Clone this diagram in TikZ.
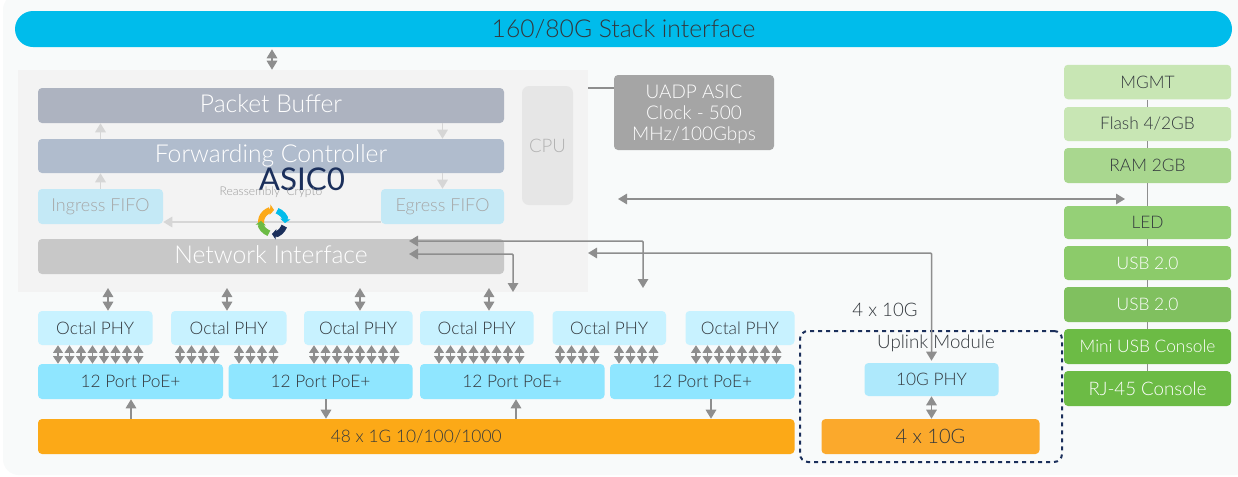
\documentclass[tikz,border=0pt]{standalone}
\usepackage{fontspec}
\setmainfont{Lato}[UprightFont=* Light]
\newfontfamily\asicfont{Lato}
\usetikzlibrary{arrows.meta,calc}
\definecolor{stackblue}{HTML}{00BCEB}
\definecolor{panelbg}{HTML}{F8FAFA}
\definecolor{asicbg}{HTML}{F3F3F3}
\definecolor{bufgrey}{HTML}{ADB3C0}
\definecolor{fwdgrey}{HTML}{B0BCCD}
\definecolor{fifoblue}{HTML}{C4E9F6}
\definecolor{netgrey}{HTML}{C8C8C8}
\definecolor{cpugrey}{HTML}{E6E6E6}
\definecolor{uadpgrey}{HTML}{A5A5A5}
\definecolor{phyblue}{HTML}{C8F2FF}
\definecolor{poeblue}{HTML}{8FE6FF}
\definecolor{tenblue}{HTML}{AEE9FC}
\definecolor{portorange}{HTML}{FCA917}
\definecolor{uporange}{HTML}{FBA92C}
\definecolor{greenA}{HTML}{C8E6B4}
\definecolor{greenB}{HTML}{A9D78F}
\definecolor{greenC}{HTML}{95D077}
\definecolor{greenD}{HTML}{8CCB6A}
\definecolor{greenE}{HTML}{80C05F}
\definecolor{greenF}{HTML}{6CBB45}
\definecolor{txtdark}{HTML}{33383D}
\definecolor{arrowgrey}{HTML}{8E8E8E}
\definecolor{arrowlight}{HTML}{D6D6D6}
\definecolor{navy}{HTML}{1B2F5B}
\def\px{0.75pt}
\tikzset{
    blk/.style={rectangle,rounded corners=4*\px,inner sep=0pt,align=center,text=txtdark},
    wh/.style 2 args={minimum width=#1*\px,minimum height=#2*\px},
    big/.style={blk,text=white,font=\fontsize{18.5}{22}\selectfont,text height=13pt,text depth=3pt},
    mid/.style={blk,font=\fontsize{13}{15}\selectfont},
    phybox/.style={mid,fill=phyblue,wh={#1}{34}},
    poebox/.style={mid,fill=poeblue,wh={#1}{35}},
    grnbox/.style={mid,wh={167}{#1}},
    wire/.style={draw=arrowgrey,line width=1.5*\px},
    dbl/.style={wire,{Triangle[width=10.5*\px,length=9*\px]}-{Triangle[width=10.5*\px,length=9*\px]}},
    dblsmall/.style={wire,{Triangle[width=9.5*\px,length=7.5*\px]}-{Triangle[width=9.5*\px,length=7.5*\px]}},
    one/.style={wire,-{Triangle[width=10.5*\px,length=9*\px]}},
    faint/.style={draw=arrowlight,line width=1.5*\px,-{Triangle[width=10.5*\px,length=9*\px]}}
}
\begin{document}
\begin{tikzpicture}[x=0.75pt,y=-0.75pt]
    \useasboundingbox (0,0) rectangle (1238,476);
    % backdrop
    \fill[white] (0,0) rectangle (1238,476);
    \fill[panelbg,rounded corners=16*\px] (3,-6) rectangle (1250,475);
    \node[blk,fill=stackblue,wh={1217}{36},rounded corners=18*\px,font=\fontsize{18.5}{22}\selectfont] (stack) at (623.5,29) {160/80G Stack interface};
    \node[rectangle,fill=asicbg,inner sep=0pt,wh={570}{222}] (asic) at (303,181) {};
    % inside the ASIC
    \node[big,fill=bufgrey,wh={466}{35}] (buffer) at (271,105.5) {Packet Buffer};
    \node[big,fill=fwdgrey,wh={466}{34}] (forward) at (271,156) {Forwarding Controller};
    \node[mid,text=black!35,fill=fifoblue,wh={125}{35},font=\fontsize{13.5}{16}\selectfont] (ingress) at (100.5,206.5) {Ingress FIFO};
    \node[mid,text=black!35,fill=fifoblue,wh={123}{35},font=\fontsize{13.5}{16}\selectfont] (egress) at (442.5,206.5) {Egress FIFO};
    \node[big,fill=netgrey,wh={466}{35}] (netif) at (271,256.5) {Network Interface};
    \node[mid,text=black!30,fill=cpugrey,wh={51}{119},rounded corners=7*\px,font=\fontsize{14}{16}\selectfont] (cpu) at (547.5,145.5) {CPU};
    \node[blk,text=white,fill=uadpgrey,wh={160}{75},font=\fontsize{14.2}{15.75}\selectfont] (uadp) at (694,112.5) {\rule{0pt}{13pt}UADP ASIC\\Clock - 500\\MHz/100Gbps};
    \draw[faint] (ingress.north) -- (forward.south -| ingress.north);
    \draw[faint] (forward.north -| ingress.north) -- (buffer.south -| ingress.north);
    \draw[faint] (buffer.south -| egress.north) -- (forward.north -| egress.north);
    \draw[faint] (forward.south -| egress.north) -- (egress.north);
    \draw[faint] (egress.west |- 0,222) -- (ingress.east |- 0,222);
    % logo
    \begin{scope}[shift={(273,222)},x=0.75pt,y=0.75pt]
        \foreach \col/\from/\to in {portorange/190/85,stackblue/70/-5,navy/-20/-95,greenF/-110/-185}
            \draw[\col,line width=6*\px,-{Triangle[width=10*\px,length=4*\px]}] (\from:12) arc[start angle=\from,end angle=\to,radius=12*\px];
    \end{scope}
    \node[inner sep=0pt,text=navy,font=\asicfont\fontsize{23.5}{28}\selectfont] (asiclabel) at (302,179) {ASIC0};
    \node[inner sep=0pt,text=black!40,font=\fontsize{9}{11}\selectfont] (reasm) at (271,192) {Reassembly\ \ Crypto};
    % phy row
    \node[phybox=114.5] (phyA) at (95.25,328) {Octal PHY};
    \node[phybox=115.5] (phyB) at (228.75,328) {Octal PHY};
    \node[phybox=108.5] (phyC) at (358.25,328) {Octal PHY};
    \node[phybox=113.5] (phyD) at (476.75,328) {Octal PHY};
    \node[phybox=113.5] (phyE) at (609.25,328) {Octal PHY};
    \node[phybox=109] (phyF) at (740,328) {Octal PHY};
    \node[poebox=185] (poeA) at (130.5,381.5) {12 Port PoE+};
    \node[poebox=184] (poeB) at (320.5,381.5) {12 Port PoE+};
    \node[poebox=184.5] (poeC) at (512.25,381.5) {12 Port PoE+};
    \node[poebox=184.5] (poeD) at (702.25,381.5) {12 Port PoE+};
    \node[mid,fill=portorange,wh={756.5}{35}] (ports) at (416.25,436.5) {48 x 1G 10/100/1000};
    \foreach \p/\xa in {phyA/108,phyB/227,phyC/360,phyD/489}
        \draw[dbl] (\p.north -| \xa,0) -- (\xa,288);
    \foreach \xa in {58,69.5,81,92.5,104,115.5,127,138.5}
        \draw[dblsmall] (phyA.south -| \xa,0) -- (poeA.north -| \xa,0);
    \foreach \xa in {180,191.5,203,214.5}
        \draw[dblsmall] (phyB.south -| \xa,0) -- (poeA.north -| \xa,0);
    \foreach \xa in {239,250.5,262,273.5}
        \draw[dblsmall] (phyB.south -| \xa,0) -- (poeB.north -| \xa,0);
    \foreach \xa in {314,325.5,337,348.5,360,371.5,383,394.5}
        \draw[dblsmall] (phyC.south -| \xa,0) -- (poeB.north -| \xa,0);
    \foreach \xa in {439,450.5,462,473.5,485,496.5,508,519.5}
        \draw[dblsmall] (phyD.south -| \xa,0) -- (poeC.north -| \xa,0);
    \foreach \xa in {560,571.5,583,594.5}
        \draw[dblsmall] (phyE.south -| \xa,0) -- (poeC.north -| \xa,0);
    \foreach \xa in {619,630.5,642,653.5}
        \draw[dblsmall] (phyE.south -| \xa,0) -- (poeD.north -| \xa,0);
    \foreach \xa in {696,707.5,719,730.5,742,753.5,765,776.5}
        \draw[dblsmall] (phyF.south -| \xa,0) -- (poeD.north -| \xa,0);
    \draw[one] (ports.north -| 131,0) -- (poeA.south -| 131,0);
    \draw[one] (poeB.south -| 326,0) -- (ports.north -| 326,0);
    \draw[one] (ports.north -| 516,0) -- (poeC.south -| 516,0);
    \draw[one] (poeD.south -| 711,0) -- (ports.north -| 711,0);
    % uplink module
    \node[draw=navy,line width=2*\px,dash pattern=on 4*\px off 4*\px,rounded corners=8*\px,inner sep=0pt,wh={262}{131}] (uplink) at (931,396.5) {};
    \node[inner sep=0pt,text=txtdark,font=\fontsize{14}{16}\selectfont] (uplinklabel) at (936,343) {Uplink Module};
    \node[inner sep=0pt,text=txtdark,font=\fontsize{14}{16}\selectfont] (tenlabel) at (885,310) {4 x 10G};
    \node[mid,fill=tenblue,wh={134}{33}] (phyten) at (931.5,379.5) {10G PHY};
    \node[mid,fill=uporange,wh={218}{35},font=\fontsize{15}{18}\selectfont] (upports) at (930.5,436.5) {4 x 10G};
    \draw[dbl] (phyten.south) -- (upports.north -| phyten.south);
    % management column
    \node[grnbox=34.5,fill=greenA] (mgmt) at (1147.5,82) {MGMT};
    \node[grnbox=34,fill=greenA] (flash) at (1147.5,124) {Flash 4/2GB};
    \node[grnbox=35,fill=greenB] (ram) at (1147.5,165.5) {RAM 2GB};
    \node[grnbox=33,fill=greenC] (led) at (1147.5,222.5) {LED};
    \node[grnbox=34,fill=greenD,text=white] (usbA) at (1147.5,263) {USB 2.0};
    \node[grnbox=35,fill=greenE,text=white] (usbB) at (1147.5,304.5) {USB 2.0};
    \node[grnbox=35,fill=greenF,text=white] (mini) at (1147.5,346.5) {Mini USB Console};
    \node[grnbox=35,fill=greenF,text=white,font=\fontsize{14}{16}\selectfont] (rj) at (1147.5,388.5) {RJ-45 Console};
    \foreach \a/\b in {mgmt/flash,flash/ram,ram/led,led/usbA,usbA/usbB,usbB/mini,mini/rj}
        \draw[wire] (\a.south) -- (\b.north);
    % links
    \draw[dbl] (stack.south -| asic.north) ++(-31,2) coordinate (stacktop) -- (stacktop |- asic.north);
    \draw[wire] (asic.east |- 0,88) -- (uadp.west |- 0,88);
    \coordinate (busleft) at (618,199);
    \coordinate (busright) at (1125,199);
    \draw[dbl] (busleft) -- (busright);
    \coordinate (netA) at (409,241);
    \coordinate (netB) at (409,254);
    \coordinate (netC) at (588,253);
    \coordinate (downA) at (643,288);
    \coordinate (downB) at (513,292);
    \draw[dbl,rounded corners=1*\px] (netA) -| (downA);
    \draw[dbl,rounded corners=1*\px] (netB) -| (downB);
    \draw[dbl,shorten >=2*\px,rounded corners=1*\px] (netC) -| (phyten.north);
\end{tikzpicture}
\end{document}
